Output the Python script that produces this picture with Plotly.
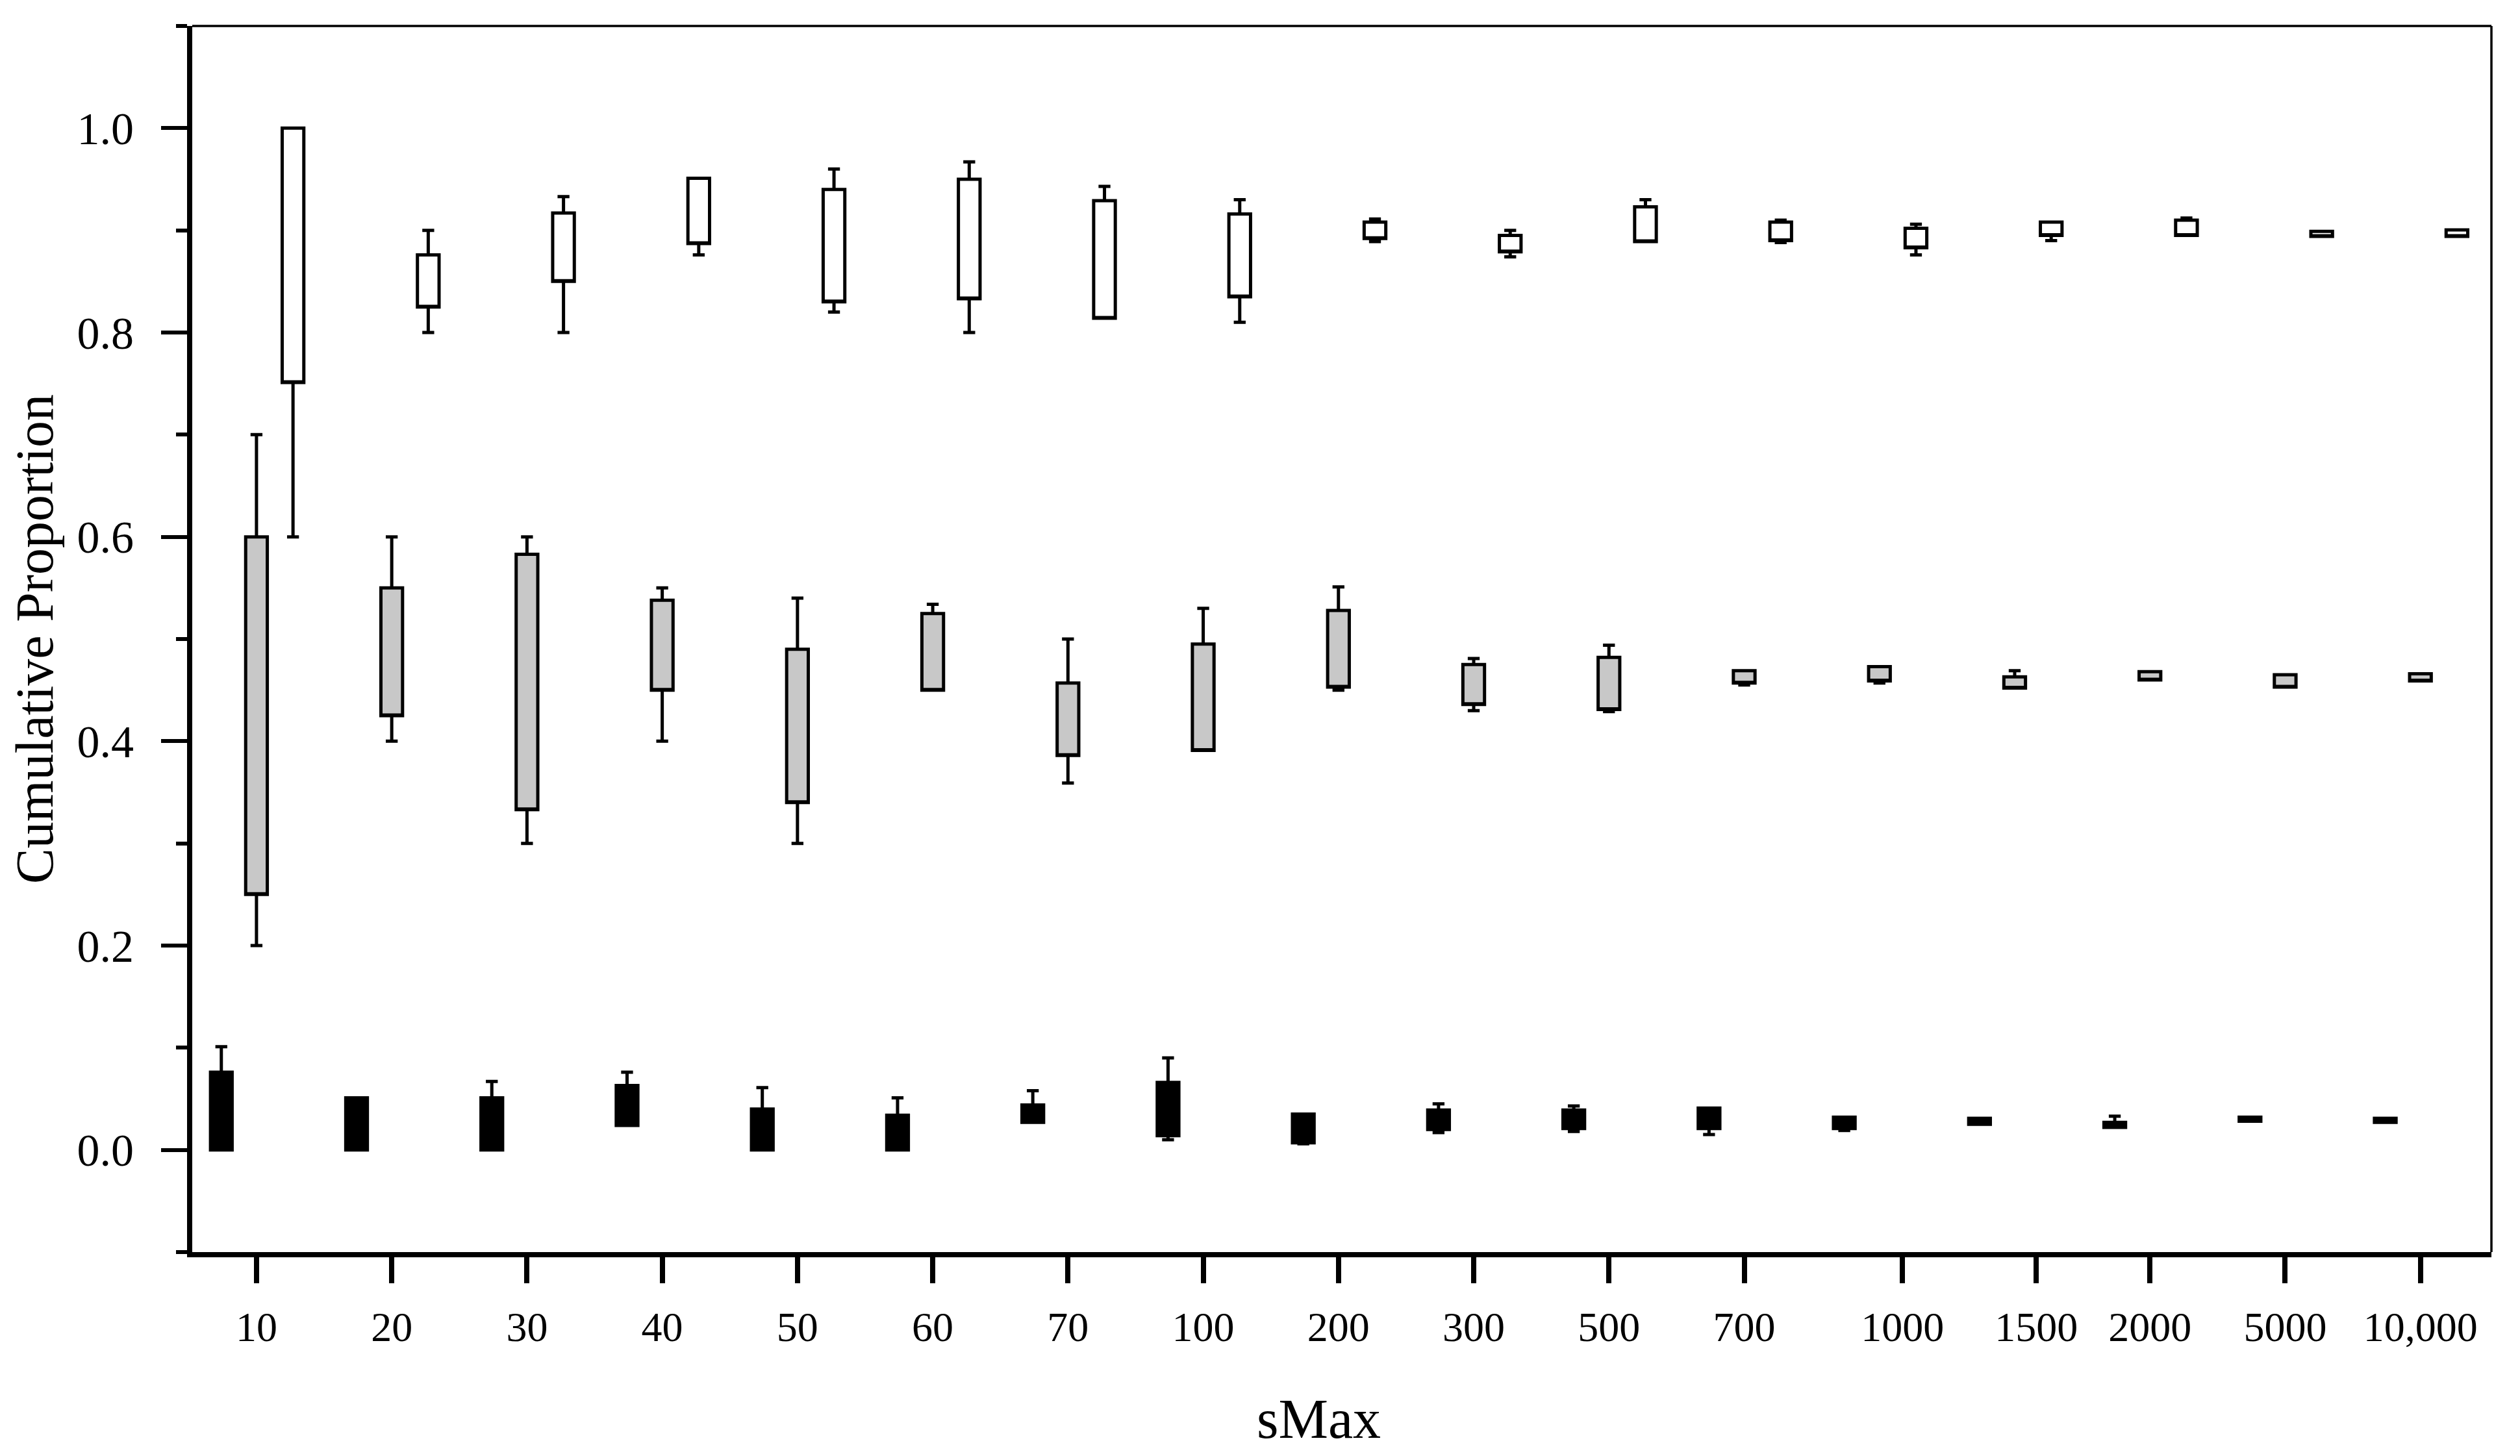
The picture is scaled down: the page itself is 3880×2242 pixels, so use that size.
import plotly.graph_objects as go

# sMax categories along the x axis
categories = ["10", "20", "30", "40", "50", "60", "70", "100", "200", "300",
              "500", "700", "1000", "1500", "2000", "5000", "10,000"]

# black boxes (lowest group)
black_lower = [0.0, 0.0, 0.0, 0.024, 0.0, 0.0, 0.027, 0.010, 0.006, 0.017,
               0.018, 0.015, 0.019, 0.025, 0.022, 0.028, 0.027]
black_q1 = [0.0, 0.0, 0.0, 0.024, 0.0, 0.0, 0.027, 0.014, 0.007, 0.020,
            0.021, 0.021, 0.021, 0.025, 0.022, 0.028, 0.027]
black_q3 = [0.076, 0.051, 0.051, 0.063, 0.040, 0.034, 0.044, 0.066, 0.035, 0.039,
            0.039, 0.041, 0.032, 0.031, 0.027, 0.032, 0.031]
black_upper = [0.101, 0.051, 0.067, 0.076, 0.061, 0.051, 0.058, 0.090, 0.035, 0.045,
               0.043, 0.041, 0.032, 0.031, 0.033, 0.032, 0.031]

# gray boxes (middle group)
gray_lower = [0.200, 0.400, 0.300, 0.400, 0.300, 0.450, 0.359, 0.391, 0.450, 0.430,
              0.429, 0.455, 0.457, 0.452, 0.460, 0.453, 0.459]
gray_q1 = [0.250, 0.425, 0.333, 0.450, 0.340, 0.450, 0.386, 0.391, 0.453, 0.436,
           0.431, 0.457, 0.459, 0.452, 0.460, 0.453, 0.459]
gray_q3 = [0.600, 0.550, 0.583, 0.538, 0.490, 0.525, 0.457, 0.495, 0.528, 0.475,
           0.482, 0.469, 0.473, 0.463, 0.468, 0.465, 0.466]
gray_upper = [0.700, 0.600, 0.600, 0.550, 0.540, 0.534, 0.500, 0.530, 0.551, 0.481,
              0.494, 0.469, 0.473, 0.469, 0.468, 0.465, 0.466]

# white boxes (top group)
white_lower = [0.600, 0.800, 0.800, 0.876, 0.820, 0.800, 0.814, 0.810, 0.889, 0.874,
               0.889, 0.888, 0.876, 0.890, 0.895, 0.894, 0.894]
white_q1 = [0.751, 0.825, 0.850, 0.887, 0.830, 0.833, 0.814, 0.835, 0.892, 0.879,
            0.889, 0.890, 0.883, 0.895, 0.895, 0.894, 0.894]
white_q3 = [1.000, 0.876, 0.917, 0.951, 0.940, 0.950, 0.929, 0.916, 0.908, 0.895,
            0.923, 0.908, 0.902, 0.908, 0.910, 0.899, 0.9005]
white_upper = [1.000, 0.900, 0.933, 0.951, 0.960, 0.967, 0.943, 0.930, 0.911, 0.900,
               0.930, 0.910, 0.906, 0.908, 0.912, 0.899, 0.9005]

FONT = "Liberation Serif"

series = [
    (black_lower, black_q1, black_q3, black_upper, "black", -0.26),
    (gray_lower, gray_q1, gray_q3, gray_upper, "#c8c8c8", 0.0),
    (white_lower, white_q1, white_q3, white_upper, "white", 0.27),
]

fig = go.Figure()

for lower, q1, q3, upper, fill, offset in series:
    fig.add_trace(
        go.Box(
            x=[i + offset for i in range(len(categories))],
            lowerfence=lower,
            q1=q1,
            median=q1,
            q3=q3,
            upperfence=upper,
            width=0.16,
            whiskerwidth=0.55,
            fillcolor=fill,
            line=dict(color="black", width=5),
            boxpoints=False,
            showlegend=False
        )
    )

# tick marks under 1000 and 1500 sit a little right of their boxes
tick_pos = list(range(len(categories)))
tick_pos[12] += 0.17
tick_pos[13] += 0.16

# page body has an 8px margin, so margins are trimmed by 8 on the left/top
fig.update_layout(
    width=3880,
    height=2242,
    margin=dict(l=288, r=52, t=32, b=322),
    paper_bgcolor="white",
    plot_bgcolor="white",
    boxmode="overlay",
    font=dict(family=FONT, color="black", size=64),
    xaxis=dict(
        range=[-0.475, 16.525],
        tickvals=tick_pos,
        ticktext=categories,
        ticks="outside",
        ticklen=40,
        tickwidth=8,
        tickcolor="black",
        ticklabelstandoff=12,
        showline=True,
        linewidth=8,
        linecolor="black",
        showgrid=False,
        zeroline=False,
        tickfont=dict(family=FONT, size=64)
    ),
    yaxis=dict(
        range=[-0.1, 1.1],
        tickvals=[0.0, 0.2, 0.4, 0.6, 0.8, 1.0],
        tickformat=".1f",
        ticks="outside",
        ticklen=40,
        tickwidth=6,
        tickcolor="black",
        ticklabelstandoff=28,
        minor=dict(dtick=0.1, tick0=0.1, ticks="outside", ticklen=17,
                   tickwidth=6, tickcolor="black", showgrid=False),
        showline=True,
        linewidth=8,
        linecolor="black",
        showgrid=False,
        zeroline=False,
        tickfont=dict(family=FONT, size=70),
        title=dict(text="Cumulative Proportion",
                   font=dict(family=FONT, size=82), standoff=26)
    ),
    shapes=[
        dict(type="line", xref="paper", yref="paper", x0=0, x1=1, y0=1, y1=1,
             line=dict(color="black", width=3.5)),
        dict(type="line", xref="paper", yref="paper", x0=1, x1=1, y0=0, y1=1,
             line=dict(color="black", width=3.5)),
    ],
    annotations=[
        dict(text="sMax", xref="paper", yref="paper", x=0.49, y=-0.136,
             xanchor="center", yanchor="middle", showarrow=False,
             font=dict(family=FONT, size=86))
    ]
)

fig.write_html("out.html")
